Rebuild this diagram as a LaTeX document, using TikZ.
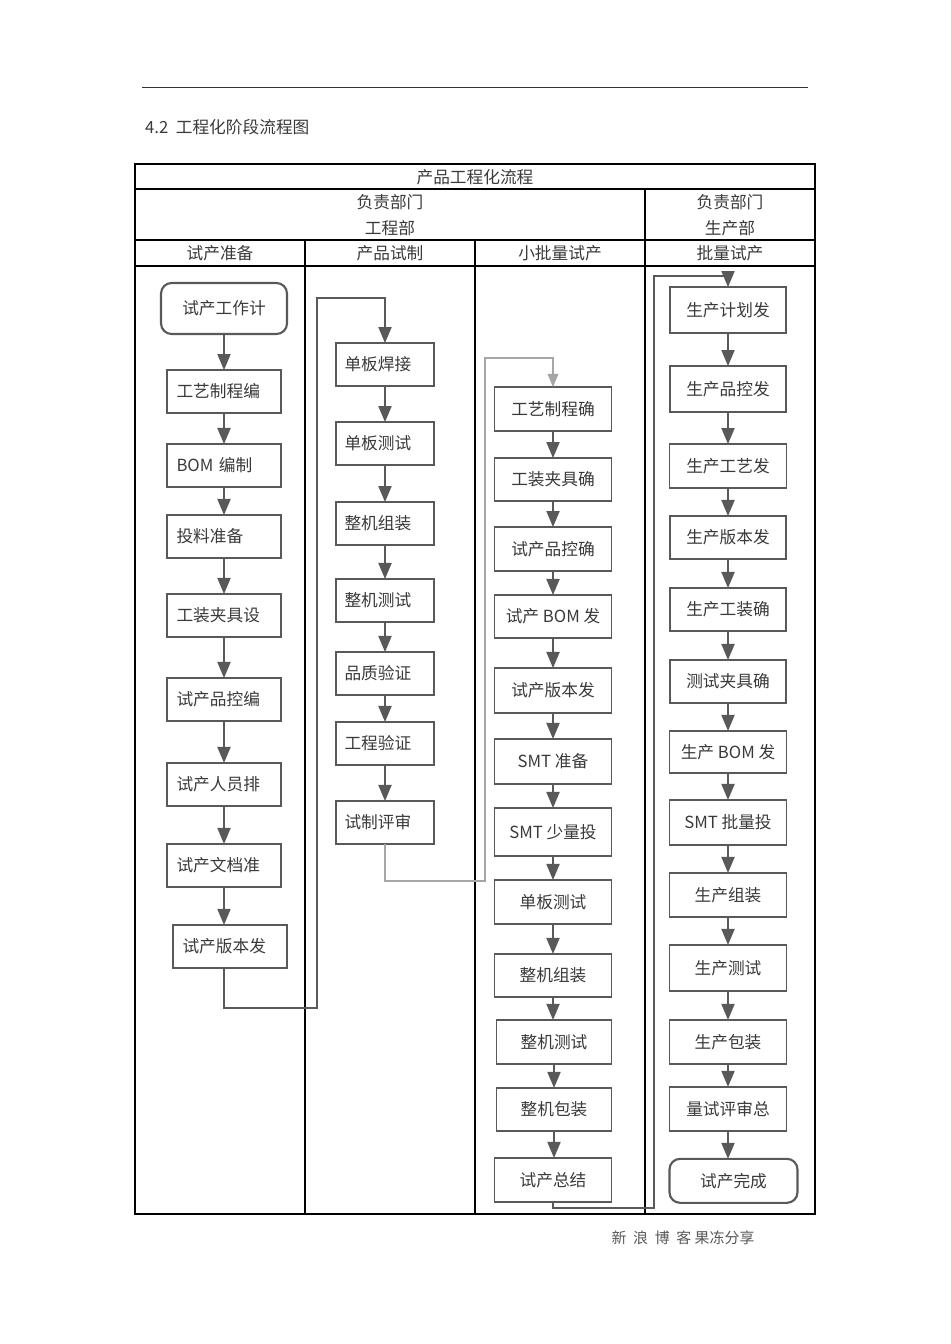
\documentclass[tikz,border=0pt]{standalone}
\usepackage{fontspec}
\setmainfont{Noto Sans CJK SC}
\usepackage{xcolor}
\usepackage{tikz}
\usetikzlibrary{shapes.geometric, arrows, positioning, calc}
\definecolor{linegray}{HTML}{595959}
\definecolor{txtgray}{HTML}{3A3A3A}
\newcommand*\boxfont{\fontsize{9.5}{11}\selectfont}
\tikzstyle{stepbox} = [rectangle, minimum width=2.3cm, minimum height=0.84cm, draw=linegray, line width=1pt, outer sep=0pt, text=txtgray, font=\boxfont, inner sep=2pt]
\tikzstyle{leftbox} = [stepbox, minimum height=0.86cm, text width=1.9cm, align=left]
\tikzstyle{endbox} = [stepbox, rounded corners=6pt, line width=1.2pt]
\tikzstyle{arrow} = [line width=1.1pt, draw=linegray, ->, >=triangle 45]
\tikzstyle{loopthin} = [line width=0.7pt, draw=gray!70, ->, >=triangle 45]
\tikzstyle{tableline} = [line width=0.6pt, draw=black]
\tikzstyle{headtext} = [font=\fontsize{9.5}{14.8}\selectfont, text=txtgray, align=center]

\begin{document}
\begin{tikzpicture}[x=0.02cm, y=-0.02cm]
    \fill [white] (0,0) rectangle (950,1344);
    \path [use as bounding box] (0,0) rectangle (950,1344);

    % === PAGE HEADER ===
    \draw [line width=0.5pt, draw=black!80] (142,87) -- (808,87);
    \node (section) [headtext, anchor=west] at (139,127) {4.2\ \ 工程化阶段流程图};

    % === TABLE FRAME ===
    \draw [tableline] (135,164) rectangle (815,1214);
    \draw [tableline] (135,189) -- (815,189);
    \draw [tableline] (135,240) -- (815,240);
    \draw [tableline] (135,266) -- (815,266);
    \draw [tableline] (645,189) -- (645,1214);
    \draw [tableline] (305,240) -- (305,1214);
    \draw [tableline] (475,240) -- (475,1214);

    \node (tabtitle) [headtext] at (475,177) {产品工程化流程};
    \node (engdept) [headtext] at (390,215) {负责部门\\工程部};
    \node (proddept) [headtext] at (730,215) {负责部门\\生产部};
    \node (headprep) [headtext] at (220,253) {试产准备};
    \node (headproto) [headtext] at (390,253) {产品试制};
    \node (headsmall) [headtext] at (560,253) {小批量试产};
    \node (headmass) [headtext] at (730,253) {批量试产};

    % === COLUMN 1: 试产准备 ===
    \node (trialplan) [endbox, minimum width=2.52cm, minimum height=1.02cm] at (224,308.5) {试产工作计};
    \node (procedit) [leftbox, minimum width=2.28cm, below=0.72cm of trialplan] {工艺制程编};
    \node (bomedit) [leftbox, minimum width=2.28cm, below=0.62cm of procedit] {BOM 编制};
    \node (feedprep) [leftbox, minimum width=2.28cm, below=0.56cm of bomedit] {投料准备};
    \node (fixdesign) [leftbox, minimum width=2.28cm, below=0.72cm of feedprep] {工装夹具设};
    \node (qcedit) [leftbox, minimum width=2.28cm, below=0.82cm of fixdesign] {试产品控编};
    \node (staffplan) [leftbox, minimum width=2.28cm, below=0.84cm of qcedit] {试产人员排};
    \node (docprep) [leftbox, minimum width=2.28cm, below=0.76cm of staffplan] {试产文档准};
    \node (relpub) [leftbox, minimum width=2.28cm, below=0.76cm of docprep, xshift=0.12cm] {试产版本发};

    \draw [arrow] (trialplan.south) -- (procedit.north);
    \draw [arrow] (procedit.south) -- (bomedit.north);
    \draw [arrow] (bomedit.south) -- (feedprep.north);
    \draw [arrow] (feedprep.south) -- (fixdesign.north);
    \draw [arrow] (fixdesign.south) -- (qcedit.north);
    \draw [arrow] (qcedit.south) -- (staffplan.north);
    \draw [arrow] (staffplan.south) -- (docprep.north);
    \draw [arrow] (docprep.south) -- (docprep.south |- relpub.north);

    % === COLUMN 2: 产品试制 ===
    \node (weld) [leftbox, minimum width=1.96cm, text width=1.62cm] at (385,364.5) {单板焊接};
    \node (boardtest) [leftbox, minimum width=1.96cm, text width=1.62cm, below=0.72cm of weld] {单板测试};
    \node (assembly) [leftbox, minimum width=1.96cm, text width=1.62cm, below=0.74cm of boardtest] {整机组装};
    \node (systest) [leftbox, minimum width=1.96cm, text width=1.62cm, below=0.68cm of assembly] {整机测试};
    \node (qaverify) [leftbox, minimum width=1.96cm, text width=1.62cm, below=0.6cm of systest] {品质验证};
    \node (engverify) [leftbox, minimum width=1.96cm, text width=1.62cm, below=0.54cm of qaverify] {工程验证};
    \node (trialreview) [leftbox, minimum width=1.96cm, text width=1.62cm, below=0.72cm of engverify] {试制评审};

    \draw [arrow] (weld.south) -- (boardtest.north);
    \draw [arrow] (boardtest.south) -- (assembly.north);
    \draw [arrow] (assembly.south) -- (systest.north);
    \draw [arrow] (systest.south) -- (qaverify.north);
    \draw [arrow] (qaverify.south) -- (engverify.north);
    \draw [arrow] (engverify.south) -- (trialreview.north);

    % === COLUMN 3: 小批量试产 ===
    \node (procconfirm) [stepbox, minimum width=2.34cm, minimum height=0.88cm] at (553,409) {工艺制程确};
    \node (fixconfirm) [stepbox, minimum width=2.34cm, minimum height=0.86cm, below=0.54cm of procconfirm] {工装夹具确};
    \node (qcconfirm) [stepbox, minimum width=2.34cm, minimum height=0.88cm, below=0.52cm of fixconfirm] {试产品控确};
    \node (bomrel) [stepbox, minimum width=2.34cm, minimum height=0.86cm, below=0.48cm of qcconfirm] {试产 BOM 发};
    \node (verrel) [stepbox, minimum width=2.34cm, minimum height=0.9cm, below=0.6cm of bomrel] {试产版本发};
    \node (smtprep) [stepbox, minimum width=2.34cm, minimum height=0.9cm, below=0.52cm of verrel] {SMT 准备};
    \node (smtsmall) [stepbox, minimum width=2.34cm, minimum height=0.96cm, below=0.48cm of smtprep] {SMT 少量投};
    \node (boardtest3) [stepbox, minimum width=2.34cm, minimum height=0.88cm, below=0.48cm of smtsmall] {单板测试};
    \node (assembly3) [stepbox, minimum width=2.34cm, minimum height=0.86cm, below=0.6cm of boardtest3] {整机组装};
    \node (systest3) [stepbox, minimum width=2.3cm, minimum height=0.88cm, below=0.46cm of assembly3, xshift=0.02cm] {整机测试};
    \node (packing3) [stepbox, minimum width=2.3cm, minimum height=0.86cm, below=0.48cm of systest3] {整机包装};
    \node (summary) [stepbox, minimum width=2.34cm, minimum height=0.88cm, below=0.54cm of packing3, xshift=-0.02cm] {试产总结};

    \draw [arrow] (procconfirm.south) -- (fixconfirm.north);
    \draw [arrow] (fixconfirm.south) -- (qcconfirm.north);
    \draw [arrow] (qcconfirm.south) -- (bomrel.north);
    \draw [arrow] (bomrel.south) -- (verrel.north);
    \draw [arrow] (verrel.south) -- (smtprep.north);
    \draw [arrow] (smtprep.south) -- (smtsmall.north);
    \draw [arrow] (smtsmall.south) -- (boardtest3.north);
    \draw [arrow] (boardtest3.south) -- (assembly3.north);
    \draw [arrow] (assembly3.south) -- (assembly3.south |- systest3.north);
    \draw [arrow] (systest3.south) -- (packing3.north);
    \draw [arrow] (packing3.south) -- (packing3.south |- summary.north);

    % === COLUMN 4: 批量试产 ===
    \node (prodplan) [stepbox, minimum width=2.32cm, minimum height=0.92cm] at (728,310) {生产计划发};
    \node (prodqc) [stepbox, minimum width=2.32cm, minimum height=0.92cm, below=0.66cm of prodplan] {生产品控发};
    \node (prodproc) [stepbox, minimum width=2.34cm, minimum height=0.88cm, below=0.64cm of prodqc] {生产工艺发};
    \node (prodver) [stepbox, minimum width=2.32cm, minimum height=0.86cm, below=0.56cm of prodproc] {生产版本发};
    \node (prodfix) [stepbox, minimum width=2.32cm, minimum height=0.86cm, below=0.58cm of prodver] {生产工装确};
    \node (testfix) [stepbox, minimum width=2.32cm, minimum height=0.86cm, below=0.58cm of prodfix] {测试夹具确};
    \node (prodbom) [stepbox, minimum width=2.34cm, minimum height=0.84cm, below=0.56cm of testfix] {生产 BOM 发};
    \node (smtmass) [stepbox, minimum width=2.34cm, minimum height=0.9cm, below=0.54cm of prodbom] {SMT 批量投};
    \node (prodasm) [stepbox, minimum width=2.34cm, minimum height=0.88cm, below=0.56cm of smtmass] {生产组装};
    \node (prodtest) [stepbox, minimum width=2.34cm, minimum height=0.92cm, below=0.56cm of prodasm] {生产测试};
    \node (prodpack) [stepbox, minimum width=2.34cm, minimum height=0.88cm, below=0.58cm of prodtest] {生产包装};
    \node (massreview) [stepbox, minimum width=2.34cm, minimum height=0.88cm, below=0.46cm of prodpack] {量试评审总};
    \node (done) [endbox, minimum width=2.56cm, minimum height=0.88cm, below right=0.56cm and 0cm of massreview.south west] {试产完成};

    \draw [arrow] (prodplan.south) -- (prodqc.north);
    \draw [arrow] (prodqc.south) -- (prodproc.north);
    \draw [arrow] (prodproc.south) -- (prodver.north);
    \draw [arrow] (prodver.south) -- (prodfix.north);
    \draw [arrow] (prodfix.south) -- (testfix.north);
    \draw [arrow] (testfix.south) -- (prodbom.north);
    \draw [arrow] (prodbom.south) -- (smtmass.north);
    \draw [arrow] (smtmass.south) -- (prodasm.north);
    \draw [arrow] (prodasm.south) -- (prodtest.north);
    \draw [arrow] (prodtest.south) -- (prodpack.north);
    \draw [arrow] (prodpack.south) -- (massreview.north);
    \draw [arrow] (massreview.south) -- (massreview.south |- done.north);

    % === LOOPS BETWEEN COLUMNS ===
    \coordinate (loopa) at (317,1008);
    \coordinate (loopa top) at (317,298);
    \coordinate (loopb) at (485,881);
    \coordinate (loopb top) at (485,358);
    \coordinate (loopc) at (654,1208);
    \coordinate (loopc top) at (654,276);

    \draw [arrow] (docprep.south |- relpub.south) |- (loopa) -- (loopa top) -| (weld.north);
    \draw [loopthin] (trialreview.south) |- (loopb) -- (loopb top) -| (procconfirm.north);
    \draw [arrow] (summary.south) |- (loopc) -- (loopc top) -| (prodplan.north);

    % footer
    \node (footer) [font=\fontsize{8.5}{10}\selectfont, text=black!65] at (683,1238) {新\ \ 浪\ \ 博\ \ 客\ 果冻分享};
\end{tikzpicture}
\end{document}
